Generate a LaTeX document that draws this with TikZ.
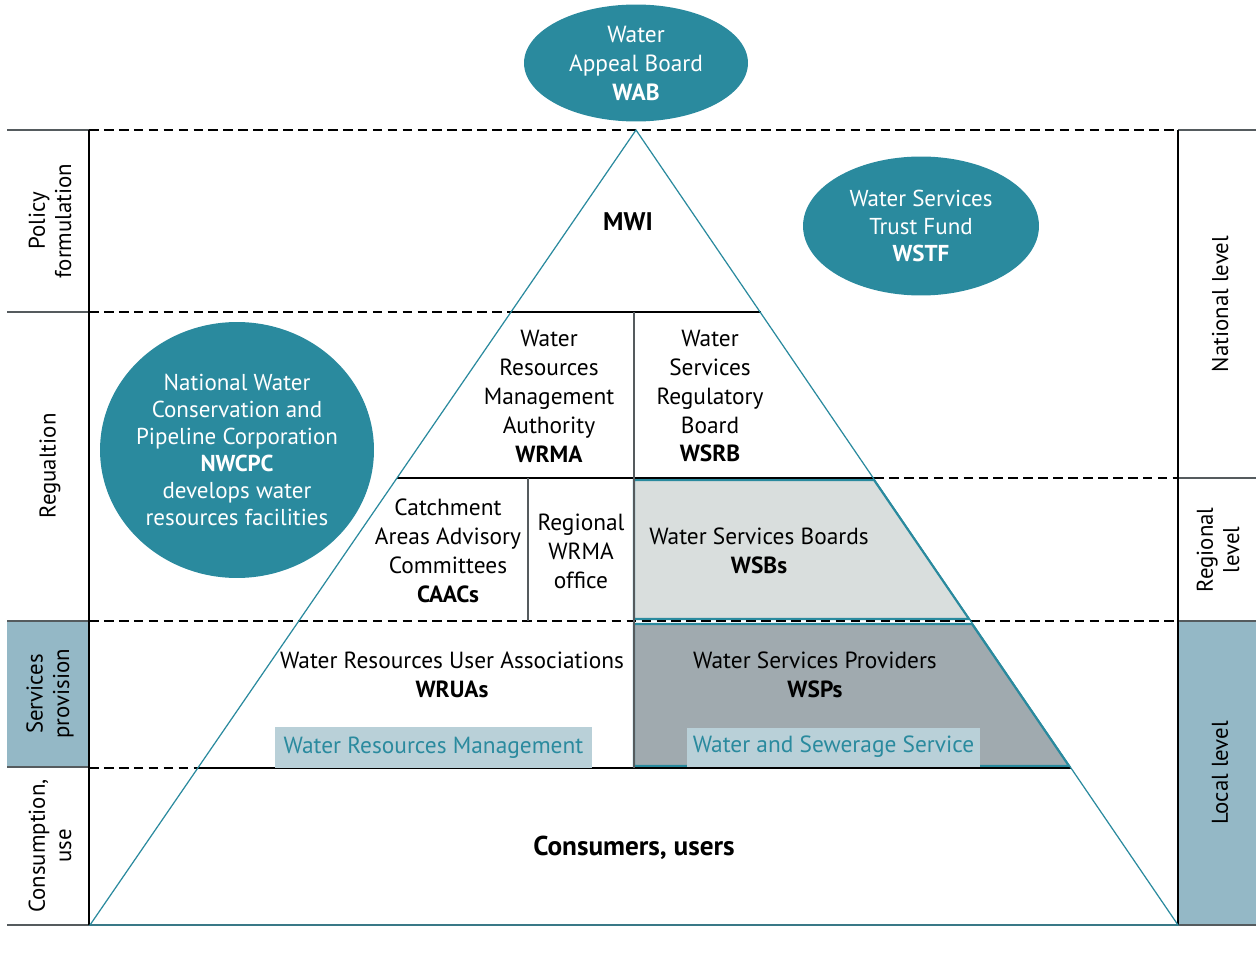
\documentclass[tikz,border=0pt]{standalone}
\usepackage{fontspec}
\setmainfont{PT Sans}
\usetikzlibrary{shapes.geometric}
\definecolor{wteal}{HTML}{2A8A9E}
\definecolor{colfill}{HTML}{94B8C6}
\definecolor{boxfill}{HTML}{B9D0D8}
\definecolor{wsbfill}{HTML}{D9DEDD}
\definecolor{wspfill}{HTML}{A0AAAF}
\definecolor{rulegrey}{HTML}{555B5E}
\tikzset{
  body/.style={align=center, inner sep=0pt, font=\fontsize{13.3}{16.5}\selectfont},
  blob/.style={ellipse, fill=wteal, text=white, align=center, inner sep=0pt, font=\fontsize{13.1}{15.4}\selectfont},
  blobtext/.style={text=white, align=center, inner sep=0pt, font=\fontsize{13.1}{15.4}\selectfont},
  tag/.style={fill=boxfill, text=wteal, inner sep=0pt, font=\fontsize{13.3}{16.5}\selectfont},
  sidelabel/.style={rotate=90, align=center, inner sep=0pt, font=\fontsize{13}{15}\selectfont},
  levelline/.style={line width=1.2pt, dash pattern=on 5.5pt off 3pt},
  tier/.style={line width=1.3pt},
  cell/.style={rulegrey, line width=0.8pt},
  zone/.style={draw=wteal, line width=1.2pt}
}
\begin{document}
\begin{tikzpicture}[x=0.02cm, y=-0.02cm]
\useasboundingbox (0,0) rectangle (1256,959);
% side columns
\fill[colfill] (7,621) rectangle (89,767);
\fill[colfill] (1178,621) rectangle (1256,925);
\draw[rulegrey, line width=0.6pt] (7,130) -- (89,130) (7,312) -- (89,312) (7,621) -- (89,621) (7,767) -- (89,767);
\draw[rulegrey, line width=0.6pt] (1178,130) -- (1256,130) (1178,478) -- (1256,478) (1178,621) -- (1256,621);
\draw[rulegrey, line width=1pt] (7,925) -- (1256,925);
\draw[line width=0.7pt] (89,130) -- (89,925) (1178,130) -- (1178,925);
% shaded zones
\filldraw[zone, fill=wsbfill] (634,480) -- (874,480) -- (969,619) -- (634,619) -- cycle;
\filldraw[zone, fill=wspfill] (634,624) -- (972,624) -- (1069,766) -- (634,766) -- cycle;
% level lines
\draw[levelline] (89,130) -- (1178,130);
\draw[levelline] (89,312) -- (511,312);
\draw[levelline] (874,478) -- (1178,478);
\draw[levelline] (89,621) -- (1178,621);
\draw[levelline] (89,768) -- (198,768);
\draw[tier] (511,312) -- (761,312);
\draw[tier] (397,478) -- (874,478);
\draw[tier] (198,768) -- (1071,768);
\draw[cell] (634,312) -- (634,768) (528,478) -- (528,621);
% pyramid
\draw[wteal, line width=0.7pt] (636,130) -- (90,925) -- (1178,925) -- cycle;
% tags
\node[tag, minimum width=6.34cm, minimum height=0.82cm] (wrmtag) at (433.5,747.5) {Water Resources Management};
\node[tag, minimum width=5.86cm, minimum height=0.78cm] (wsstag) at (833.5,747) {Water and Sewerage Service};
% bodies
\node[blob, minimum width=4.48cm, minimum height=2.34cm] (wab) at (636,63) {};
\node[blobtext, font=\fontsize{13.3}{16.5}\selectfont] (wabtext) at (wab) {Water\\Appeal Board\\\textbf{WAB}};
\node[blob, minimum width=4.72cm, minimum height=2.78cm] (wstf) at (921,226) {};
\node[blobtext] (wstftext) at (wstf) {Water Services\\Trust Fund\\\textbf{WSTF}};
\node[blob, minimum width=5.48cm, minimum height=5.12cm] (nwcpc) at (237,450) {};
\node[blobtext] (nwcpctext) at (nwcpc) {National Water\\Conservation and\\Pipeline Corporation\\\textbf{NWCPC}\\develops water\\resources facilities};
\node[body, font=\fontsize{14.5}{16.5}\selectfont] (mwi) at (628,222) {\textbf{MWI}};
\node[body] (wrma) at (549,396) {Water\\Resources\\Management\\Authority\\\textbf{WRMA}};
\node[body] (wsrb) at (710,396) {Water\\Services\\Regulatory\\Board\\\textbf{WSRB}};
\node[body] (caacs) at (448,551) {Catchment\\Areas Advisory\\Committees\\\textbf{CAACs}};
\node[body] (rwrma) at (581,551) {Regional\\WRMA\\office};
\node[body] (wsbs) at (759,551) {Water Services Boards\\\textbf{WSBs}};
\node[body] (wruas) at (452,675) {Water Resources User Associations\\\textbf{WRUAs}};
\node[body] (wsps) at (815,675) {Water Services Providers\\\textbf{WSPs}};
\node[body, font=\fontsize{15.5}{18}\selectfont] (users) at (634,848) {\textbf{Consumers, users}};
% side labels
\node[sidelabel] (policy) at (50,221) {Policy\\formulation};
\node[sidelabel] (regul) at (50,466) {Regualtion};
\node[sidelabel] (provision) at (50,694) {Services\\provision};
\node[sidelabel] (consumption) at (50,846) {Consumption,\\use};
\node[sidelabel] (national) at (1220,304) {National level};
\node[sidelabel] (regional) at (1218,550) {Regional\\level};
\node[sidelabel] (local) at (1220,773) {Local level};
\end{tikzpicture}
\end{document}
